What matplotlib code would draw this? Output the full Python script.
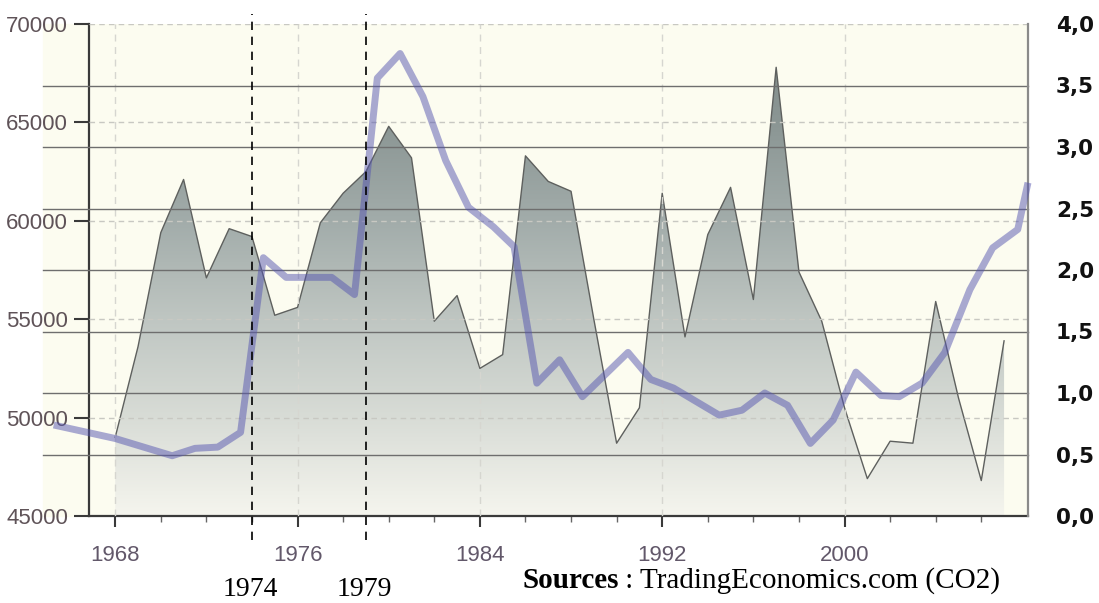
import numpy as np
import matplotlib
matplotlib.use("Agg")
import matplotlib.pyplot as plt
from matplotlib.colors import LinearSegmentedColormap
from matplotlib.patches import Rectangle

# CO2 series (left axis)
co2_years = list(range(1968, 2008))
co2_values = [49000, 53600, 59400, 62100, 57100, 59600, 59200, 55200, 55600, 59900,
              61400, 62500, 64800, 63200, 54900, 56200, 52500, 53200, 63300, 62000,
              61500, 55000, 48700, 50500, 61400, 54100, 59300, 61700, 56000, 67800,
              57400, 54900, 50500, 46900, 48800, 48700, 55900, 51000, 46800, 53900]

# purple series (right axis)
line_years = [1965.3, 1968.0, 1970.5, 1971.5, 1972.5, 1973.5, 1974.5, 1975.5, 1976.5,
              1977.5, 1978.5, 1979.5, 1980.5, 1981.5, 1982.5, 1983.5, 1984.6, 1985.5,
              1986.5, 1987.5, 1988.5, 1990.5, 1991.5, 1992.5, 1994.5, 1995.5, 1996.5,
              1997.5, 1998.5, 1999.5, 2000.5, 2001.6, 2002.4, 2003.4, 2004.4, 2005.5,
              2006.5, 2007.6, 2008.05]
line_values = [0.74, 0.63, 0.49, 0.55, 0.56, 0.68, 2.10, 1.94, 1.94,
               1.94, 1.80, 3.56, 3.76, 3.41, 2.89, 2.51, 2.35, 2.19,
               1.08, 1.27, 0.97, 1.33, 1.11, 1.04, 0.82, 0.86, 1.00,
               0.90, 0.59, 0.78, 1.17, 0.98, 0.97, 1.08, 1.33, 1.84,
               2.18, 2.33, 2.71]

left_ticks = [45000, 50000, 55000, 60000, 65000, 70000]
right_ticks = [0.0, 0.5, 1.0, 1.5, 2.0, 2.5, 3.0, 3.5, 4.0]
year_ticks = [1968, 1976, 1984, 1992, 2000]
event_years = [1974, 1979]

W, H = 1099, 603
fig = plt.figure(figsize=(W / 100, H / 100), dpi=100)
fig.patch.set_facecolor("white")
ax = fig.add_axes([89 / W, 1 - 516 / H, (1028 - 89) / W, (516 - 24) / H])
ax.set_facecolor("#fcfcf0")

# pale background spilling left of the axis (behind the tick labels)
ax.add_patch(Rectangle((43 / W, 1 - 516 / H), (89 - 43) / W, 492 / H,
                       transform=fig.transFigure, color="#fcfcf0", zorder=0,
                       clip_on=False))

xmin, xmax = 1966.85, 2008.05

# gradient-filled area
poly = ax.fill_between(co2_years, co2_values, 45000, facecolor="none", edgecolor="none")
cmap = LinearSegmentedColormap.from_list(
    "grey", ["#f5f5ee", "#d8dcd6", "#bfc6c2", "#a2acaa", "#8b9694", "#7f8a88"])
grad = np.linspace(0, 1, 256).reshape(-1, 1)
img = ax.imshow(grad, extent=[xmin, xmax, 45000, 70000], aspect="auto",
                cmap=cmap, origin="lower", zorder=1)
img.set_clip_path(poly.get_paths()[0], transform=ax.transData)
ax.plot(co2_years, co2_values, color="#5e605e", lw=1, zorder=2)

# dashed light grid
for v in left_ticks[1:]:
    ax.axhline(v, color="#c8c8c2", lw=1, ls=(0, (4, 3)), zorder=3)
for yr in year_ticks:
    ax.axvline(yr, color="#d6d6d0", lw=1, ls=(0, (5, 4)), zorder=3)

ax.set_xlim(xmin, xmax)
ax.set_ylim(45000, 70000)
ax.set_yticks(left_ticks)
ax.set_xticks(year_ticks)
ax.set_xticks(range(1968, 2008, 2), minor=True)
for s in ["top", "right"]:
    ax.spines[s].set_visible(False)
for s in ["left", "bottom"]:
    ax.spines[s].set_color("#3a3a3a")
    ax.spines[s].set_linewidth(1.6)

ax.tick_params(axis="y", length=11, width=1.5, color="#3a3a3a", pad=4,
               labelsize=16, labelcolor="#5f5358")
ax.tick_params(axis="x", which="major", length=8, width=1.5, color="#3a3a3a", pad=13,
               labelsize=16, labelcolor="#62586a")
ax.tick_params(axis="x", which="minor", length=4, width=1, color="#666666")
for lab in ax.get_yticklabels() + ax.get_xticklabels():
    lab.set_family("Liberation Sans")

# right axis
ax2 = ax.twinx()
ax2.set_ylim(0, 4)
ax2.set_xlim(xmin, xmax)
ax2.set_yticks(right_ticks)
ax2.set_yticklabels([f"{v:.1f}".replace(".", ",") for v in right_ticks])
ax2.tick_params(axis="y", length=0, pad=20, labelsize=15.5)
for lab in ax2.get_yticklabels():
    lab.set_fontweight("bold")
    lab.set_color("#111111")
for s in ["top", "left", "bottom"]:
    ax2.spines[s].set_visible(False)
ax2.spines["right"].set_color("#8a8a8a")
ax2.spines["right"].set_linewidth(1.6)

for v in right_ticks[1:-1]:
    ax2.plot([-0.049, 1], [v, v], transform=ax2.get_yaxis_transform(),
             color="#6e6e6e", lw=1, clip_on=False, zorder=2)

ax2.plot(line_years, line_values, color="#5555b0", alpha=0.5, lw=5,
         solid_joinstyle="round", solid_capstyle="butt", clip_on=False, zorder=4)

for yr in event_years:
    ax2.plot([yr, yr], [-0.049, 1.02], transform=ax2.get_xaxis_transform(),
             color="black", lw=1.2, ls=(0, (5, 4)), clip_on=False, zorder=5)

serif = "Liberation Serif"
for yr, px in zip(event_years, [250, 364]):
    fig.text(px / W, 1 - 589 / H, str(yr), ha="center", va="center",
             family=serif, size=20, color="black")

t1 = fig.text(522 / W, 1 - 588 / H, "Sources", ha="left", va="baseline",
              family=serif, size=21, fontweight="bold")
ax2.annotate(" : TradingEconomics.com (CO2)", xy=(1, 0), xycoords=t1,
             ha="left", va="bottom", family=serif, size=21, annotation_clip=False)

fig.savefig("out.png", dpi=100)
